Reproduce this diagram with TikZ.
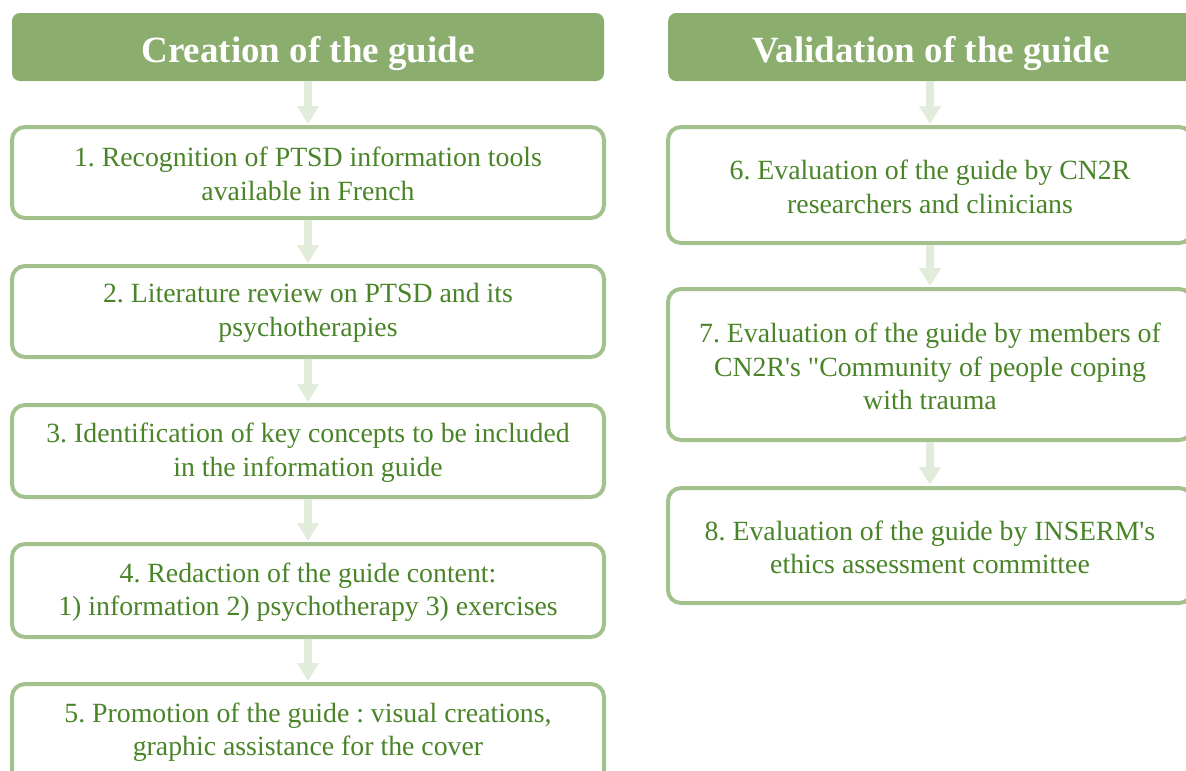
\documentclass[tikz,border=0pt]{standalone}
\usepackage{fontspec}
\setmainfont{Liberation Serif}
\newfontfamily\plainserif{Liberation Serif}
\usetikzlibrary{arrows.meta}
\definecolor{hdrfill}{RGB}{139,174,111}
\definecolor{boxline}{RGB}{163,193,140}
\definecolor{txtgreen}{RGB}{74,132,40}
\definecolor{arrowc}{RGB}{226,236,218}
\tikzset{
  hdr/.style={fill=hdrfill, rounded corners=8pt, inner sep=0pt},
  hdrtext/.style={text=white, font=\fontsize{37}{40}\selectfont\bfseries, inner sep=0pt, anchor=base},
  stepbox/.style={draw=boxline, line width=4pt, fill=white, rounded corners=13pt, inner sep=0pt},
  steptext/.style={text=txtgreen, align=center, font=\plainserif\fontsize{27.8}{33.5}\selectfont\frenchspacing, inner sep=0pt},
  flow/.style={draw=arrowc, line width=8pt, -{Triangle[width=21pt,length=18pt]}, shorten >=1pt}
}
\begin{document}
\begin{tikzpicture}[x=1pt,y=-1pt]
\useasboundingbox (0,0) rectangle (1186,771);
\clip (0,0) rectangle (1186,771);
% left column
\node[hdr, minimum width=592pt, minimum height=68pt] (h1) at (308,47) {};
\node[hdrtext] (h1t) at (308,62) {Creation of the guide};
\node[stepbox, minimum width=592pt, minimum height=91pt] (b1) at (308,172.5) {};
\node[steptext] (t1) at (308,174) {1. Recognition of PTSD information tools\\available in French};
\node[stepbox, minimum width=592pt, minimum height=91pt] (b2) at (308,311.5) {};
\node[steptext] (t2) at (308,313) {2. Literature review on PTSD and its\\psychotherapies};
\node[stepbox, minimum width=592pt, minimum height=92pt] (b3) at (308,451) {};
\node[steptext] (t3) at (308,452.5) {3. Identification of key concepts to be included\\in the information guide};
\node[stepbox, minimum width=592pt, minimum height=93pt] (b4) at (308,590.5) {};
\node[steptext] (t4) at (308,592) {4. Redaction of the guide content:\\1) information 2) psychotherapy 3) exercises};
\node[stepbox, minimum width=592pt, minimum height=104pt] (b5) at (308,736) {};
\node[steptext] (t5) at (308,732) {5. Promotion of the guide : visual creations,\\graphic assistance for the cover};
% right column
\node[hdr, minimum width=540pt, minimum height=68pt, anchor=west] (h2) at (668,47) {};
\node[hdrtext] (h2t) at (931,62) {Validation of the guide};
\node[stepbox, minimum width=524pt, minimum height=116pt] (b6) at (930,185) {};
\node[steptext] (t6) at (930,187) {6. Evaluation of the guide by CN2R\\researchers and clinicians};
\node[stepbox, minimum width=524pt, minimum height=151pt] (b7) at (930,364.5) {};
\node[steptext] (t7) at (930,366.5) {7. Evaluation of the guide by members of\\CN2R's "Community of people coping\\with trauma};
\node[stepbox, minimum width=524pt, minimum height=115pt] (b8) at (930,545.5) {};
\node[steptext] (t8) at (930,547.5) {8. Evaluation of the guide by INSERM's\\ethics assessment committee};
% connectors
\draw[flow] (h1.south) -- (b1.north);
\draw[flow] (b1.south) -- (b2.north);
\draw[flow] (b2.south) -- (b3.north);
\draw[flow] (b3.south) -- (b4.north);
\draw[flow] (b4.south) -- (b5.north);
\draw[flow] (b6.north |- h2.south) -- (b6.north);
\draw[flow] (b6.south) -- (b7.north);
\draw[flow] (b7.south) -- (b8.north);
\end{tikzpicture}
\end{document}
